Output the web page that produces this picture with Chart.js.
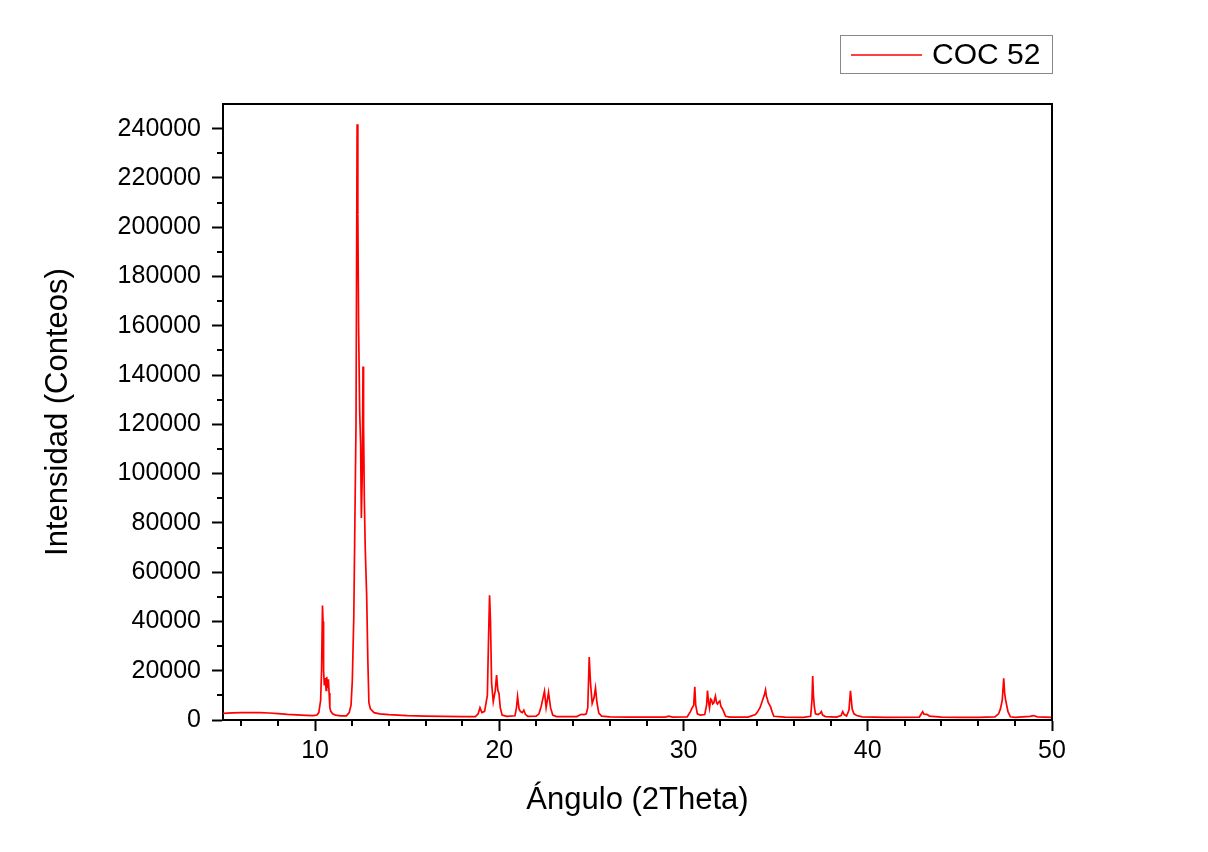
<!DOCTYPE html>
<html><head><meta charset="utf-8">
<script src="https://cdn.jsdelivr.net/npm/chart.js@4/dist/chart.umd.min.js"></script>
<style>html,body{margin:0;padding:0;background:#fff;}#wrap{width:1208px;height:852px;}</style>
</head><body><div id="wrap"><canvas id="c" width="1208" height="852"></canvas></div>
<script>
const seriesName = 'COC 52';
const angles = [5.0,5.5,6.0,6.5,7.0,7.5,8.0,8.5,9.0,9.5,9.9,10.1,10.2,10.3,10.35,10.4,10.43,10.46,10.5,10.55,10.6,10.63,10.67,10.72,10.76,10.8,10.85,10.95,11.1,11.4,11.7,11.85,11.95,12.02,12.1,12.16,12.22,12.28,12.32,12.36,12.42,12.47,12.51,12.56,12.6,12.63,12.67,12.72,12.8,12.86,12.92,13.0,13.2,13.5,14.0,15.0,16.0,17.0,18.0,18.7,18.85,18.95,19.05,19.2,19.35,19.42,19.47,19.52,19.58,19.67,19.78,19.85,19.92,19.98,20.05,20.15,20.4,20.85,20.93,20.99,21.07,21.15,21.25,21.33,21.42,21.55,22.0,22.15,22.27,22.45,22.54,22.67,22.78,22.9,23.1,24.2,24.45,24.6,24.72,24.8,24.88,24.95,25.04,25.14,25.22,25.3,25.4,25.55,26.0,27.0,28.0,29.0,29.2,29.4,30.2,30.37,30.46,30.55,30.61,30.66,30.75,30.9,31.15,31.25,31.3,31.36,31.41,31.47,31.52,31.58,31.64,31.69,31.73,31.79,31.84,31.9,31.97,32.03,32.09,32.18,32.28,32.5,33.5,33.9,33.99,34.15,34.26,34.38,34.45,34.5,34.54,34.6,34.72,34.8,34.9,35.5,36.5,36.9,36.97,37.01,37.05,37.1,37.16,37.3,37.42,37.48,37.55,37.7,38.3,38.55,38.64,38.72,38.85,38.98,39.06,39.11,39.15,39.25,39.4,39.7,41.0,42.8,42.98,43.05,43.2,43.35,44.0,45.0,46.0,46.9,47.1,47.2,47.3,47.38,47.43,47.47,47.54,47.61,47.74,48.0,48.8,49.0,49.2,50.0];
const counts = [2700,2900,3000,3050,3000,2850,2600,2300,2100,1900,1800,2000,3000,8000,20000,46500,40000,20000,14000,17000,12000,17500,13000,16500,11000,5000,3500,2500,2000,1700,1700,3000,6000,16000,42000,81000,120000,241800,205000,160000,125000,112000,82000,100000,143500,120000,90500,70000,50000,25000,7000,4500,3000,2500,2200,1800,1600,1450,1350,1400,2500,5000,3000,3500,10000,35000,50600,40000,15000,7400,12000,18200,12000,10900,5000,2000,1500,1700,5000,9500,4500,3400,3000,4000,2200,1500,1600,2500,5500,11700,5000,11200,5000,2000,1400,1400,2300,2200,2500,5000,25600,15000,6700,9000,13000,7000,2800,1600,1300,1200,1200,1200,1600,1200,1300,3400,4800,6000,13500,6000,2500,2000,2200,6000,11900,7000,4800,8500,8100,6500,6900,8500,9700,7000,6500,7200,7700,5500,4800,3400,1500,1200,1200,2200,3000,5000,7400,10000,12200,9500,8700,7000,5400,3500,1500,1200,1100,1500,8000,17800,10000,5400,2500,2200,2800,3400,2000,1400,1200,1800,3400,2200,1600,4000,11800,8000,4500,2500,1800,1300,1100,1200,3400,2400,2300,1600,1200,1100,1100,1300,2500,4500,8000,16900,11000,8700,6000,3400,1300,1100,1500,1800,1300,1100];
const xTicks = [10,20,30,40,50];
const yTicks = [0,20000,40000,60000,80000,100000,120000,140000,160000,180000,200000,220000,240000];
const xMinor = [6,8,12,14,16,18,22,24,26,28,32,34,36,38,42,44,46,48];
const yMinor = [10000,30000,50000,70000,90000,110000,130000,150000,170000,190000,210000,230000];
const xTitle = 'Ángulo (2Theta)';
const yTitle = 'Intensidad (Conteos)';

const FONT = 'Liberation Sans, Arial, sans-serif';
const framePlugin = {
  id: 'frame',
  afterDraw(chart) {
    const {ctx, chartArea: a, scales: {x, y}} = chart;
    ctx.save();
    ctx.strokeStyle = '#000';
    ctx.lineWidth = 2;
    ctx.beginPath();
    ctx.moveTo(a.left, a.top); ctx.lineTo(a.right, a.top); ctx.lineTo(a.right, a.bottom);
    ctx.stroke();
    ctx.beginPath();
    xMinor.forEach(v => { const px = Math.round(x.getPixelForValue(v)); ctx.moveTo(px, a.bottom); ctx.lineTo(px, a.bottom + 6); });
    yMinor.forEach(v => { const py = Math.round(y.getPixelForValue(v)); ctx.moveTo(a.left, py); ctx.lineTo(a.left - 6, py); });
    ctx.stroke();
    const ds = chart.data.datasets[0];
    ctx.strokeStyle = '#888'; ctx.lineWidth = 1;
    ctx.strokeRect(840.5, 35.5, a.right - 840, 38);
    ctx.strokeStyle = ds.borderColor; ctx.lineWidth = 1.5;
    ctx.beginPath(); ctx.moveTo(851, 55); ctx.lineTo(922, 55); ctx.stroke();
    ctx.fillStyle = '#000'; ctx.font = '30px ' + FONT; ctx.textBaseline = 'middle'; ctx.textAlign = 'left';
    ctx.fillText(ds.label, 932, 56);
    ctx.restore();
  }
};

new Chart(document.getElementById('c'), {
  type: 'line',
  data: {
    datasets: [{
      label: seriesName,
      data: angles.map((a, i) => ({x: a, y: counts[i]})),
      borderColor: '#ff0000',
      borderWidth: 1.7,
      pointRadius: 0,
      tension: 0,
      fill: false
    }]
  },
  options: {
    responsive: false,
    animation: false,
    layout: {padding: {top: 104, right: 156, bottom: 0, left: 0}},
    plugins: {legend: {display: false}, tooltip: {enabled: false}},
    scales: {
      x: {
        type: 'linear', min: 5, max: 50,
        afterBuildTicks: s => { s.ticks = xTicks.map(v => ({value: v})); },
        afterFit: s => { s.height = 132; },
        ticks: {font: {family: FONT, size: 25}, color: '#000', padding: 5, maxRotation: 0, autoSkip: false, callback: v => String(v)},
        grid: {drawOnChartArea: false, drawTicks: true, tickLength: 11, color: '#000', tickWidth: 2},
        border: {display: true, color: '#000', width: 2},
        title: {display: true, text: xTitle, font: {family: FONT, size: 31}, color: '#000', padding: {top: 0, bottom: 33}}
      },
      y: {
        type: 'linear', min: 0, max: 250000,
        afterBuildTicks: s => { s.ticks = yTicks.map(v => ({value: v})); },
        afterFit: s => { s.width = 223; },
        ticks: {font: {family: FONT, size: 25}, color: '#000', padding: 11, autoSkip: false, callback: v => String(v)},
        grid: {drawOnChartArea: false, drawTicks: true, tickLength: 11, color: '#000', tickWidth: 2},
        border: {display: true, color: '#000', width: 2},
        title: {display: true, text: yTitle, font: {family: FONT, size: 31}, color: '#000', padding: {top: 40, bottom: 0}}
      }
    }
  },
  plugins: [framePlugin]
});
</script>
</body></html>
